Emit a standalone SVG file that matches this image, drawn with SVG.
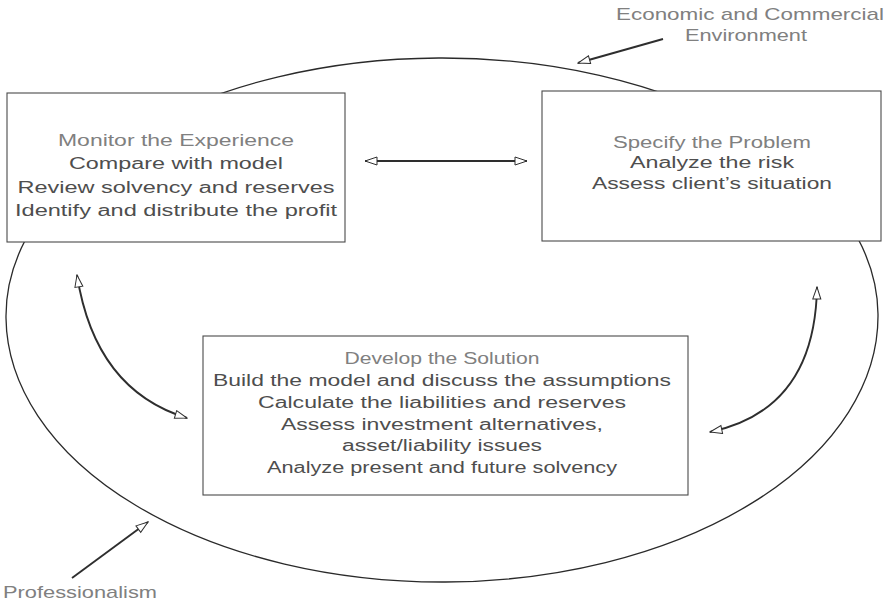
<svg xmlns="http://www.w3.org/2000/svg" width="887" height="607" viewBox="0 0 887 607">
  <style>
    .box { fill: #ffffff; stroke: #4a4a4a; stroke-width: 1.1; }
    .ring { fill: none; stroke: #2a2a2a; stroke-width: 1.3; }
    .arrow { fill: none; stroke: #2e2e2e; stroke-width: 1.9; }
    text { font-family: "Liberation Sans", Arial, sans-serif; font-size: 16px; text-anchor: middle; }
    .tx { fill: #4e4e4e; }
    .hd { fill: #808080; }
    .lbl { fill: #808080; font-size: 17px; }
  </style>
  <defs>
    <marker id="head" markerUnits="userSpaceOnUse" markerWidth="14" markerHeight="10" refX="13" refY="5" orient="auto-start-reverse">
      <path d="M1,1 L13,5 L1,9 Z" fill="#ffffff" stroke="#2e2e2e" stroke-width="1"/>
    </marker>
  </defs>

  <rect width="887" height="607" fill="#ffffff"/>

  <!-- surrounding environment: upper and lower halves of a slightly egg-shaped loop -->
  <g id="environment">
    <path class="ring" d="M6,318 A436,258 0 0 1 878,314 A436,266 0 0 1 6,318 Z"/>
  </g>

  <!-- connectors -->
  <g id="connectors">
    <line class="arrow" x1="365" y1="161" x2="527" y2="161" marker-start="url(#head)" marker-end="url(#head)"/>
    <path class="arrow" d="M77,275 Q95,390 187,418" marker-start="url(#head)" marker-end="url(#head)"/>
    <path class="arrow" d="M817,287 Q815,410 710,432" marker-start="url(#head)" marker-end="url(#head)"/>
    <line class="arrow" x1="663" y1="39" x2="578" y2="63" marker-end="url(#head)"/>
    <line class="arrow" x1="72" y1="578" x2="148" y2="522" marker-end="url(#head)"/>
  </g>

  <g id="monitor">
    <rect class="box" x="7" y="93" width="338" height="149"/>
    <text class="hd" x="176" y="146" textLength="236" lengthAdjust="spacingAndGlyphs">Monitor the Experience</text>
    <text class="tx" x="176" y="169" textLength="214" lengthAdjust="spacingAndGlyphs">Compare with model</text>
    <text class="tx" x="176" y="193" textLength="317" lengthAdjust="spacingAndGlyphs">Review solvency and reserves</text>
    <text class="tx" x="176" y="216" textLength="322" lengthAdjust="spacingAndGlyphs">Identify and distribute the profit</text>
  </g>

  <g id="specify">
    <rect class="box" x="542" y="91" width="339" height="150"/>
    <text class="hd" x="712" y="148" textLength="198" lengthAdjust="spacingAndGlyphs">Specify the Problem</text>
    <text class="tx" x="712" y="168" textLength="164" lengthAdjust="spacingAndGlyphs">Analyze the risk</text>
    <text class="tx" x="712" y="189" textLength="240" lengthAdjust="spacingAndGlyphs">Assess client’s situation</text>
  </g>

  <g id="develop">
    <rect class="box" x="203" y="336" width="485" height="159"/>
    <text class="hd" x="442" y="364" textLength="195" lengthAdjust="spacingAndGlyphs">Develop the Solution</text>
    <text class="tx" x="442" y="386" textLength="458" lengthAdjust="spacingAndGlyphs">Build the model and discuss the assumptions</text>
    <text class="tx" x="442" y="408" textLength="368" lengthAdjust="spacingAndGlyphs">Calculate the liabilities and reserves</text>
    <text class="tx" x="442" y="430" textLength="322" lengthAdjust="spacingAndGlyphs">Assess investment alternatives,</text>
    <text class="tx" x="442" y="451" textLength="200" lengthAdjust="spacingAndGlyphs">asset/liability issues</text>
    <text class="tx" x="442" y="473" textLength="350" lengthAdjust="spacingAndGlyphs">Analyze present and future solvency</text>
  </g>

  <g id="economic-label">
    <text class="lbl" x="750" y="20" textLength="268" lengthAdjust="spacingAndGlyphs">Economic and Commercial</text>
    <text class="lbl" x="746" y="41" textLength="122" lengthAdjust="spacingAndGlyphs">Environment</text>
  </g>

  <g id="professionalism-label">
    <text class="lbl" x="80" y="598" textLength="154" lengthAdjust="spacingAndGlyphs">Professionalism</text>
  </g>
</svg>
